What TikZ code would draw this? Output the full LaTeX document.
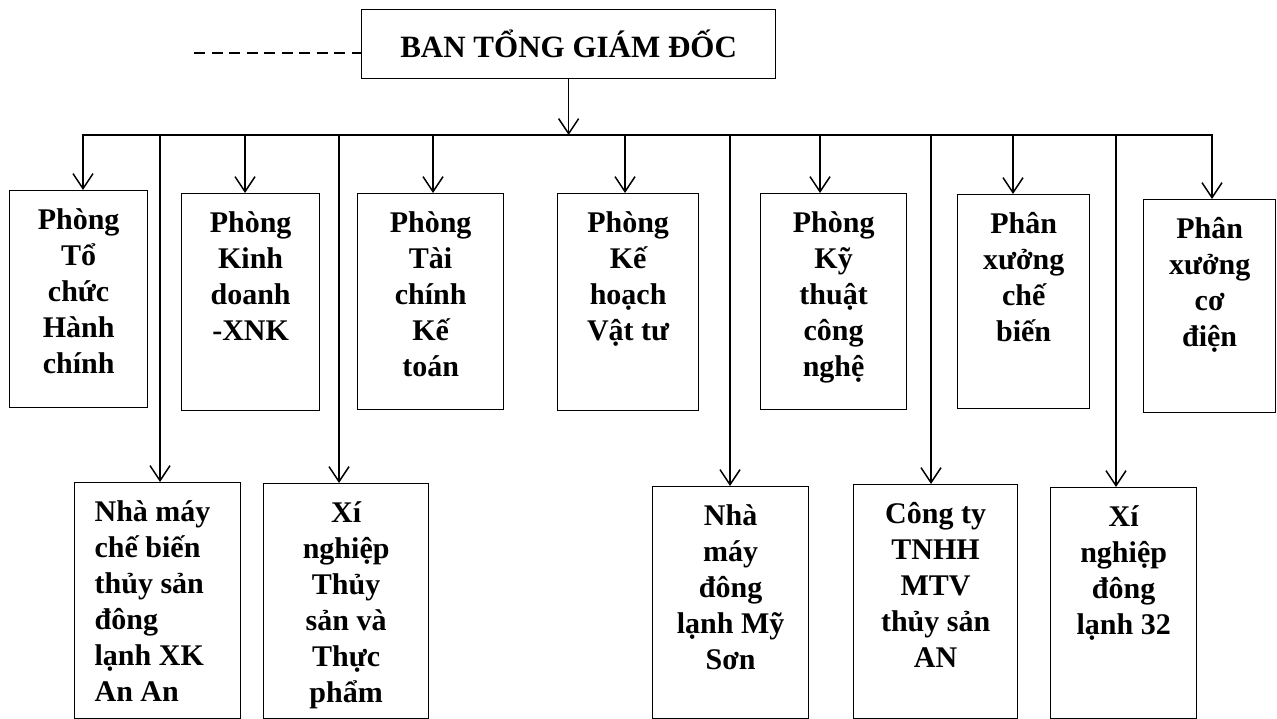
\documentclass[tikz,border=0pt]{standalone}
\usepackage{fontspec}
\setmainfont{Liberation Serif}
\usetikzlibrary{arrows.meta}
\newcommand{\bt}[4]{\parbox[t][#2][t]{#1}{#3\fontsize{30}{36}\selectfont\rule{0pt}{39pt}#4}}
\tikzset{
  bx/.style={draw, line width=1.3pt, inner sep=0pt, anchor=north west, font=\bfseries},
  arr/.style={line width=1.5pt, -{Straight Barb[length=15pt,width=20pt]}},
  bus/.style={line width=1.5pt, {Straight Barb[length=15pt,width=20pt]}-{Straight Barb[length=15pt,width=20pt]}}
}
\begin{document}
\begin{tikzpicture}[x=1pt,y=-1pt]
\useasboundingbox (0,0) rectangle (1277,719);
% top box
\node[draw, line width=1.3pt, minimum width=414pt, minimum height=69pt, inner sep=0pt, anchor=north west,
  font=\bfseries\fontsize{31}{36}\selectfont] (top) at (361,9) {BAN TỔNG GIÁM ĐỐC};
\coordinate (dl) at (194,53);
\draw[line width=1.3pt, dash pattern=on 11pt off 6.5pt] (dl) -- (dl -| top.west);
% row 1
\node[bx] (b1) at (9,190)   {\bt{138pt}{217pt}{\centering}{Phòng\\Tổ\\chức\\Hành\\chính}};
\node[bx] (b2) at (181,193) {\bt{138pt}{217pt}{\centering}{Phòng\\Kinh\\doanh\\-XNK}};
\node[bx] (b3) at (357,193) {\bt{146pt}{216pt}{\centering}{Phòng\\Tài\\chính\\Kế\\toán}};
\node[bx] (b4) at (557,193) {\bt{141pt}{217pt}{\centering}{Phòng\\Kế\\hoạch\\Vật tư}};
\node[bx] (b5) at (760,193) {\bt{146pt}{216pt}{\centering}{Phòng\\Kỹ\\thuật\\công\\nghệ}};
\node[bx] (b6) at (957,194) {\bt{132pt}{214pt}{\centering}{Phân\\xưởng\\chế\\biến}};
\node[bx] (b7) at (1143,199) {\bt{132pt}{213pt}{\centering}{Phân\\xưởng\\cơ\\điện}};
% row 2
\node[bx] (bA) at (74,482)  {\bt{166pt}{236pt}{\raggedright\leftskip=20pt\relax}{Nhà máy\\chế biến\\thủy sản\\đông\\lạnh XK\\An An}};
\node[bx] (bB) at (263,483) {\bt{165pt}{235pt}{\centering}{Xí\\nghiệp\\Thủy\\sản và\\Thực\\phẩm}};
\node[bx] (bC) at (652,486) {\bt{156pt}{232pt}{\centering}{Nhà\\máy\\đông\\lạnh Mỹ\\Sơn}};
\node[bx] (bD) at (853,484) {\bt{164pt}{234pt}{\centering}{Công ty\\TNHH\\MTV\\thủy sản\\AN}};
\node[bx] (bE) at (1050,487) {\bt{146pt}{231pt}{\centering}{Xí\\nghiệp\\đông\\lạnh 32}};
% bus coordinates
\coordinate (j1) at (83,135);
\coordinate (j2) at (245,135);
\coordinate (j3) at (433,135);
\coordinate (j4) at (625,135);
\coordinate (j5) at (820,135);
\coordinate (j6) at (1013,135);
\coordinate (j7) at (1212,135);
\coordinate (lA) at (160,135);
\coordinate (lB) at (339,135);
\coordinate (lC) at (730,135);
\coordinate (lD) at (931,135);
\coordinate (lE) at (1116,135);
% connectors
\draw[arr] (top.south) -- (top.south |- j1);
\draw[bus] (j1 |- b1.north) -- (j1) -- (j7) -- (j7 |- b7.north);
\draw[arr] (j2) -- (j2 |- b2.north);
\draw[arr] (j3) -- (j3 |- b3.north);
\draw[arr] (j4) -- (j4 |- b4.north);
\draw[arr] (j5) -- (j5 |- b5.north);
\draw[arr] (j6) -- (j6 |- b6.north);
\draw[arr] (lA) -- (lA |- bA.north);
\draw[arr] (lB) -- (lB |- bB.north);
\draw[arr] (lC) -- (lC |- bC.north);
\draw[arr] (lD) -- (lD |- bD.north);
\draw[arr] (lE) -- (lE |- bE.north);
\end{tikzpicture}
\end{document}
